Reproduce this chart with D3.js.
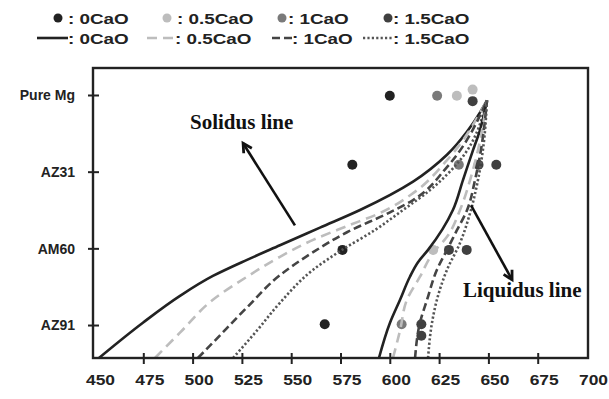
<!DOCTYPE html>
<html>
<head>
<meta charset="utf-8">
<script src="https://cdn.jsdelivr.net/npm/d3@7"></script>
<style>
  html, body { margin: 0; padding: 0; background: #fff; }
  svg { display: block; }
</style>
</head>
<body>
<svg id="chart" width="609" height="399"></svg>
<script>
// Alloy levels on the vertical axis (bottom to top)
const alloys = ["AZ91", "AM60", "AZ31", "Pure Mg"];
const alloyLevels = [1, 2, 3, 4];
const tempTicks = [450, 475, 500, 525, 550, 575, 600, 625, 650, 675, 700];
const seriesNames = ["0CaO", "0.5CaO", "1CaO", "1.5CaO"];

// Measured transformation temperatures: [temperature °C, alloy level]
const dot0CaO = [[600, 3.99], [581, 3.09], [576, 1.98], [567, 1.01]];
const dot05CaO = [[634, 3.99], [642, 4.07], [622, 1.98]];
const dot1CaO = [[624, 3.99], [635, 3.09], [606, 1.01]];
const dot15CaO = [[642, 3.92], [645, 3.09], [654, 3.09], [630, 1.98], [639, 1.98], [616, 1.01], [616, 0.86]];

// Calculated solidus curves: [temperature °C, alloy level]
const solidus0CaO = [[452.5, 0.57], [474.8, 1.03], [493.6, 1.38], [510.3, 1.64], [527.6, 1.85], [544.3, 2.04], [564.6, 2.27], [584.9, 2.50], [611.8, 2.87], [629.0, 3.22], [639.1, 3.52], [645.7, 3.77], [649.3, 3.93]];
const solidus05CaO = [[480.9, 0.57], [493.6, 0.90], [510.3, 1.33], [527.6, 1.63], [544.3, 1.89], [561.1, 2.11], [578.3, 2.29], [595.0, 2.46], [611.8, 2.72], [629.0, 3.15], [649.3, 3.93]];
const solidus1CaO = [[502.7, 0.57], [510.3, 0.77], [527.6, 1.23], [544.3, 1.65], [561.1, 1.95], [578.3, 2.21], [600.1, 2.47], [611.8, 2.63], [629.0, 3.06], [649.3, 3.93]];
const solidus15CaO = [[520.5, 0.57], [532.7, 0.93], [544.3, 1.29], [561.1, 1.72], [575.8, 1.98], [592.5, 2.24], [606.7, 2.50], [620.4, 2.76], [635.6, 3.15], [649.3, 3.93]];

// Calculated liquidus curves
const liquidus0CaO = [[594.5, 0.57], [600.1, 1.03], [605.2, 1.33], [610.2, 1.63], [614.3, 1.82], [619.4, 1.98], [632.0, 2.50], [637.1, 2.89], [642.2, 3.28], [645.7, 3.54], [649.3, 3.93]];
const liquidus05CaO = [[601.6, 0.57], [605.2, 0.93], [608.7, 1.33], [615.3, 1.63], [621.9, 1.94], [629.0, 2.15], [635.6, 2.50], [640.7, 2.89], [644.7, 3.28], [649.3, 3.93]];
const liquidus1CaO = [[612.8, 0.57], [615.3, 1.03], [618.9, 1.33], [623.9, 1.72], [629.0, 1.98], [634.1, 2.24], [639.2, 2.50], [643.2, 2.89], [646.2, 3.28], [649.3, 3.93]];
const liquidus15CaO = [[619.4, 0.57], [621.4, 1.03], [623.9, 1.33], [629.0, 1.72], [635.6, 2.07], [640.7, 2.46], [644.7, 2.89], [647.2, 3.28], [649.3, 3.93]];

// Annotation arrows: [from, to] in data coordinates
const solidusArrow = [[551.9, 2.30], [525.6, 3.37]];
const liquidusArrow = [[641.2, 2.56], [662.0, 1.59]];

const fontSans = "'Liberation Sans', Arial, sans-serif";
const fontSerif = "'Liberation Serif', 'Times New Roman', serif";

const svg = d3.select("#chart");
const x = d3.scaleLinear().domain([450, 700]).range([94, 587]);
const y = d3.scaleLinear().domain([0.57, 4.352]).range([358, 68]);

const styles = {
  "0CaO":   { dot: "#222222", line: "#222222", dash: null,    width: 2.6 },
  "0.5CaO": { dot: "#bdbdbd", line: "#bdbdbd", dash: "10,6",  width: 2.6 },
  "1CaO":   { dot: "#7a7a7a", line: "#444444", dash: "8,4",   width: 2.6 },
  "1.5CaO": { dot: "#404040", line: "#555555", dash: "2.2,2.2", width: 2.6 }
};

const curves = [
  ["0CaO", solidus0CaO], ["0.5CaO", solidus05CaO], ["1CaO", solidus1CaO], ["1.5CaO", solidus15CaO],
  ["0CaO", liquidus0CaO], ["0.5CaO", liquidus05CaO], ["1CaO", liquidus1CaO], ["1.5CaO", liquidus15CaO]
];
const dots = [["0CaO", dot0CaO], ["0.5CaO", dot05CaO], ["1CaO", dot1CaO], ["1.5CaO", dot15CaO]];

// Curves rise monotonically with alloy level, so interpolate along y
const line = d3.line().x(d => x(d[0])).y(d => y(d[1])).curve(d3.curveMonotoneY);

// Points
const gDots = svg.append("g");
dots.forEach(([name, pts]) => {
  gDots.selectAll(null).data(pts).enter().append("circle")
    .attr("cx", d => x(d[0])).attr("cy", d => y(d[1])).attr("r", 5)
    .attr("fill", styles[name].dot);
});

// Curves
const gLines = svg.append("g");
curves.forEach(([name, pts]) => {
  const s = styles[name];
  gLines.append("path").datum(pts).attr("d", line)
    .attr("fill", "none").attr("stroke", s.line).attr("stroke-width", s.width)
    .attr("stroke-dasharray", s.dash);
});

// Frame
svg.append("rect").attr("x", 93).attr("y", 68).attr("width", 495).attr("height", 290)
  .attr("fill", "none").attr("stroke", "#222").attr("stroke-width", 2.4);

// Axes with ticks crossing the frame
const xAxis = d3.axisBottom(x).tickValues(tempTicks).tickFormat("");
const gx = svg.append("g").attr("transform", "translate(0,358)").call(xAxis);
gx.select(".domain").remove();
gx.selectAll(".tick line").attr("y1", -5).attr("y2", 6).attr("stroke", "#222").attr("stroke-width", 2);
gx.selectAll(".tick").filter(d => d === 450 || d === 700).select("line").remove();
gx.selectAll(".tick").append("text")
  .attr("transform", "translate(6,27) scale(1.2,1)")
  .attr("text-anchor", "middle").attr("fill", "#222")
  .style("font-family", fontSans).style("font-weight", "bold").style("font-size", "14.5px")
  .text(d => d);

const yAxis = d3.axisLeft(y).tickValues(alloyLevels).tickFormat("");
const gy = svg.append("g").attr("transform", "translate(93,0)").call(yAxis);
gy.select(".domain").remove();
gy.selectAll(".tick line").attr("x1", -5).attr("x2", 6).attr("stroke", "#222").attr("stroke-width", 2);
gy.selectAll(".tick").append("text")
  .attr("x", -18).attr("dy", "0.35em")
  .attr("text-anchor", "end").attr("fill", "#222")
  .style("font-family", fontSans).style("font-weight", "bold").style("font-size", "14px")
  .text(d => alloys[alloyLevels.indexOf(d)]);

// Arrows with open chevron heads
function arrow(pts) {
  const [a, b] = pts.map(p => [x(p[0]), y(p[1])]);
  const ang = Math.atan2(b[1] - a[1], b[0] - a[0]);
  const L = 10, spread = 0.5;
  const h1 = [b[0] - L * Math.cos(ang - spread), b[1] - L * Math.sin(ang - spread)];
  const h2 = [b[0] - L * Math.cos(ang + spread), b[1] - L * Math.sin(ang + spread)];
  svg.append("line").attr("x1", a[0]).attr("y1", a[1]).attr("x2", b[0]).attr("y2", b[1])
    .attr("stroke", "#111").attr("stroke-width", 2.6);
  svg.append("path").attr("d", d3.line()([h1, b, h2]))
    .attr("fill", "none").attr("stroke", "#111").attr("stroke-width", 2.8).attr("stroke-linejoin", "miter");
}
arrow(solidusArrow);
arrow(liquidusArrow);

svg.append("text").attr("x", 190).attr("y", 129)
  .style("font-family", fontSerif).style("font-weight", "bold").style("font-size", "21px")
  .attr("fill", "#111").text("Solidus line");
svg.append("text").attr("x", 463).attr("y", 297)
  .style("font-family", fontSerif).style("font-weight", "bold").style("font-size", "21px")
  .attr("fill", "#111").text("Liquidus line");

// Legend: marker row and line row
const legendDotX = [58, 167, 282, 388];
const legendDotTextX = [68, 177, 288, 393];
const legendLineX = [[37, 68], [147, 175], [272, 292], [363, 393]];
const legendLineTextX = [68, 175, 292, 393];
const legend = svg.append("g");
seriesNames.forEach((name, i) => {
  const s = styles[name];
  legend.append("circle").attr("cx", legendDotX[i]).attr("cy", 18).attr("r", 4.5).attr("fill", s.dot);
  legend.append("text")
    .attr("transform", `translate(${legendDotTextX[i]},23.5) scale(1.3,1)`)
    .attr("fill", "#222")
    .style("font-family", fontSans).style("font-weight", "bold").style("font-size", "14.5px")
    .text(": " + name);
  legend.append("line").attr("x1", legendLineX[i][0]).attr("x2", legendLineX[i][1])
    .attr("y1", 38).attr("y2", 38)
    .attr("stroke", s.line).attr("stroke-width", 2.6).attr("stroke-dasharray", s.dash);
  legend.append("text")
    .attr("transform", `translate(${legendLineTextX[i]},43.5) scale(1.3,1)`)
    .attr("fill", "#222")
    .style("font-family", fontSans).style("font-weight", "bold").style("font-size", "14.5px")
    .text(": " + name);
});
</script>
</body>
</html>
